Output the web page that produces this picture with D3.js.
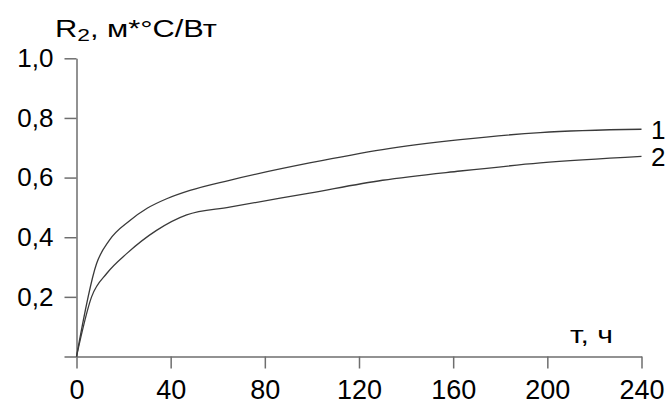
<!DOCTYPE html>
<html>
<head>
<meta charset="utf-8">
<script src="https://cdn.jsdelivr.net/npm/d3@7"></script>
<style>
  body { margin: 0; background: #fff; }
  svg { font-family: "Liberation Sans", Arial, sans-serif; }
</style>
</head>
<body>
<div id="chart"></div>
<script>
// data
var t1 = [0, 8.5, 14, 22.7, 30, 38.3, 48.2, 65, 99, 130, 163, 197, 240];
var r1 = [0, 0.311, 0.39, 0.456, 0.497, 0.529, 0.557, 0.591, 0.649, 0.694, 0.727, 0.751, 0.762];
var t2 = [0, 6.4, 13, 21.3, 34, 46.8, 65, 99, 130, 163, 197, 240];
var r2 = [0, 0.2, 0.28, 0.345, 0.423, 0.475, 0.501, 0.548, 0.591, 0.622, 0.649, 0.671];
var xTicks = [0, 40, 80, 120, 160, 200, 240];
var yTicks = [0, 0.2, 0.4, 0.6, 0.8, 1.0];
var seriesNames = ["1", "2"];

// setup
var w = 670;
var h = 405;

var svg = d3.select("#chart")
            .append("svg")
            .attr("width", w)
            .attr("height", h);

var x = d3.scaleLinear().domain([0, 240]).range([76.5, 641.5]);
var y = d3.scaleLinear().domain([0, 1]).range([356.5, 58.3]);

var fmt = function(d){ return d === 0 ? "" : d3.format(".1f")(d).replace(".", ","); };

var yAxis = svg.append("g")
    .attr("transform", "translate(" + x(0) + ",0)")
    .call(d3.axisLeft(y).tickValues(yTicks).tickFormat(fmt).tickSize(12).tickSizeOuter(0).tickPadding(11));

var xAxis = svg.append("g")
    .attr("transform", "translate(0," + y(0) + ")")
    .call(d3.axisBottom(x).tickValues(xTicks).tickSize(12).tickSizeOuter(0).tickPadding(11));

[yAxis, xAxis].forEach(function(a){
    a.select(".domain").attr("stroke", "#6e6e6e").attr("stroke-width", 1.5);
    a.selectAll(".tick line").attr("stroke", "#6e6e6e").attr("stroke-width", 1.5);
    a.selectAll(".tick text").attr("fill", "#000").style("font-size", "26px");
});
xAxis.selectAll(".tick text").style("font-size", "27px");

// curves
var line = d3.line()
    .curve(d3.curveMonotoneX)
    .x(function(d){ return x(d[0]); })
    .y(function(d){ return y(d[1]); });

var series = [d3.zip(t1, r1), d3.zip(t2, r2)];

svg.append("g")
    .selectAll("path")
    .data(series)
    .enter()
    .append("path")
        .attr("d", line)
        .attr("fill", "none")
        .attr("stroke", "#3a3a3a")
        .attr("stroke-width", 1.3);

// curve labels
svg.append("g")
    .selectAll("text")
    .data(series)
    .enter()
    .append("text")
        .attr("x", 651)
        .attr("y", function(d){ return y(d[d.length - 1][1]) + 10; })
        .attr("font-size", "26px")
        .text(function(d, i){ return seriesNames[i]; });

// axis titles
svg.append("text")
    .attr("x", 55)
    .attr("y", 37)
    .attr("font-size", "23px")
    .attr("textLength", 162)
    .attr("lengthAdjust", "spacingAndGlyphs")
    .html("R<tspan font-size='17px' dy='4'>2</tspan><tspan dy='-4'>, м*°C/Вт</tspan>");

svg.append("text")
    .attr("x", 570)
    .attr("y", 343)
    .attr("font-size", "23px")
    .attr("textLength", 43)
    .attr("lengthAdjust", "spacingAndGlyphs")
    .text("т, ч");
</script>
</body>
</html>
